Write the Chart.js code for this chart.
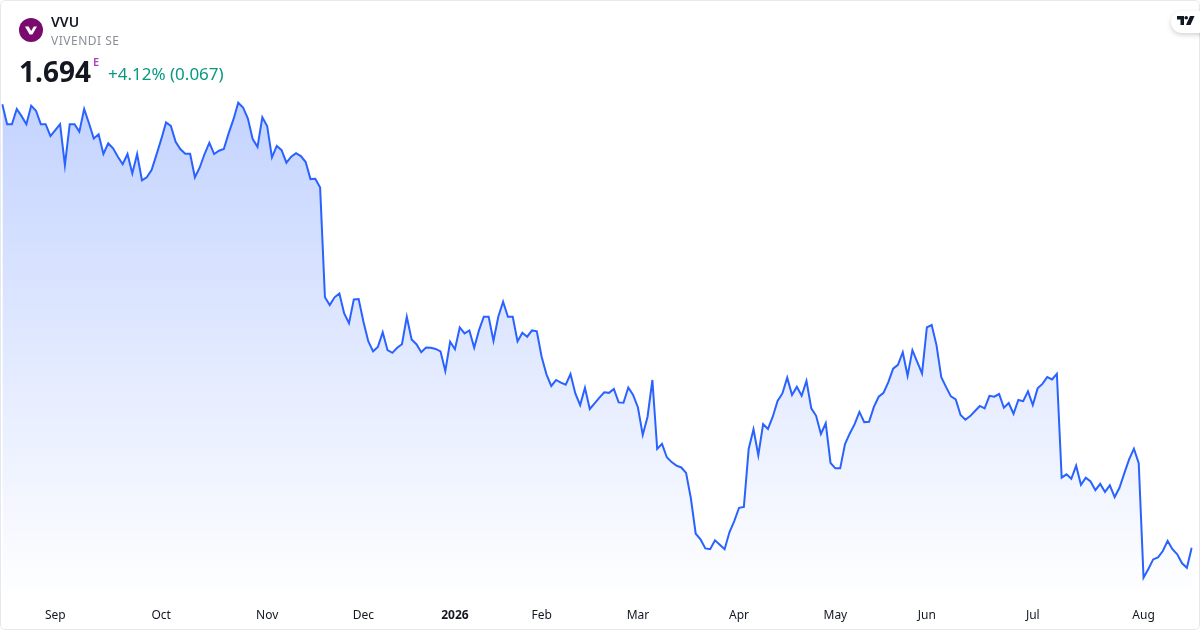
<!DOCTYPE html>
<html>
<head>
<meta charset="utf-8">
<title>VVU</title>
<script src="https://cdn.jsdelivr.net/npm/chart.js@4/dist/chart.umd.min.js"></script>
<style>
  html, body { margin: 0; padding: 0; background: #fff; }
  body { width: 1200px; height: 630px; overflow: hidden; position: relative; font-family: "Noto Sans", sans-serif; }
  #card { position: absolute; left: 0; top: 0; width: 1198px; height: 628px; border: 1px solid #e6e8ee; border-radius: 5px; }
  #chart { position: absolute; left: 0; top: 0; }
  .txt { position: absolute; white-space: nowrap; }
  #logo { position: absolute; left: 19px; top: 18px; }
  #symbol { left: 51px; top: 12px; font-size: 14px; font-weight: 600; color: #131722; line-height: 19px; }
  #name { left: 51px; top: 32px; font-size: 12px; letter-spacing: 0.5px; color: #8a8e97; line-height: 17px; }
  #price { left: 19px; top: 52px; font-size: 28px; font-weight: 700; color: #131722; line-height: 38px; }
  #flag { left: 93px; top: 54px; font-size: 11px; font-weight: 600; color: #ab47bc; line-height: 15px; }
  #change { left: 108px; top: 62px; font-size: 17px; color: #089981; line-height: 24px; }
  #tv { position: absolute; left: 1171px; top: 11px; width: 40px; height: 22px; background: #fff; border-radius: 11px; box-shadow: 0 2px 5px rgba(0,0,0,0.18); }
  #tv svg { position: absolute; left: 6px; top: 5px; }
</style>
</head>
<body>
<div id="card"></div>
<canvas id="chart" width="1200" height="630"></canvas>
<svg id="logo" width="24" height="24" viewBox="0 0 24 24">
  <circle cx="12" cy="12" r="12" fill="#7b0a6e"/>
  <path d="M6 8.5h3.6l2.6 4.6 2.6-4.6H18l-4.6 8h-2.8z" fill="#fff"/>
</svg>
<div class="txt" id="symbol">VVU</div>
<div class="txt" id="name">VIVENDI SE</div>
<div class="txt" id="price">1.694</div>
<div class="txt" id="flag">E</div>
<div class="txt" id="change">+4.12% (0.067)</div>
<div id="tv">
  <svg width="18" height="10" viewBox="0 0 18 10">
    <path d="M0 0h7v9H3.5V3.5H0z" fill="#131722"/>
    <circle cx="9.2" cy="1.8" r="1.8" fill="#131722"/>
    <path d="M13 0h4.5l-4 9H9z" fill="#131722"/>
  </svg>
</div>
<script>
var values = [
  3.180, 3.113, 3.113, 3.164, 3.140, 3.113, 3.175, 3.158, 3.113, 3.113,
  3.073, 3.093, 3.113, 2.976, 3.113, 3.113, 3.088, 3.164, 3.116, 3.065,
  3.079, 3.013, 3.049, 3.032, 3.004, 2.979, 3.013, 2.948, 3.013, 2.925,
  2.935, 2.959, 3.010, 3.062, 3.119, 3.107, 3.054, 3.029, 3.014, 3.014,
  2.935, 2.968, 3.013, 3.051, 3.013, 3.024, 3.030, 3.082, 3.129, 3.185,
  3.169, 3.132, 3.063, 3.037, 3.136, 3.107, 3.002, 3.040, 3.026, 2.984,
  3.004, 3.016, 3.006, 2.986, 2.929, 2.930, 2.901, 2.533, 2.507, 2.533,
  2.546, 2.479, 2.446, 2.526, 2.527, 2.451, 2.386, 2.352, 2.367, 2.416,
  2.356, 2.347, 2.364, 2.376, 2.468, 2.392, 2.376, 2.349, 2.365, 2.364,
  2.360, 2.352, 2.286, 2.384, 2.359, 2.432, 2.412, 2.422, 2.364, 2.423,
  2.468, 2.468, 2.387, 2.468, 2.518, 2.468, 2.468, 2.385, 2.414, 2.401,
  2.422, 2.419, 2.334, 2.275, 2.236, 2.256, 2.247, 2.240, 2.276, 2.211,
  2.172, 2.230, 2.159, 2.178, 2.197, 2.215, 2.213, 2.226, 2.181, 2.180,
  2.231, 2.206, 2.164, 2.072, 2.133, 2.256, 2.025, 2.042, 1.997, 1.981,
  1.969, 1.963, 1.945, 1.859, 1.741, 1.722, 1.692, 1.689, 1.719, 1.704,
  1.689, 1.746, 1.783, 1.828, 1.831, 2.025, 2.091, 2.004, 2.108, 2.092,
  2.133, 2.186, 2.211, 2.264, 2.206, 2.233, 2.203, 2.253, 2.161, 2.136,
  2.075, 2.111, 1.978, 1.960, 1.960, 2.041, 2.077, 2.108, 2.149, 2.115,
  2.116, 2.166, 2.200, 2.213, 2.249, 2.294, 2.307, 2.349, 2.270, 2.356,
  2.317, 2.278, 2.432, 2.440, 2.373, 2.265, 2.232, 2.201, 2.191, 2.139,
  2.123, 2.135, 2.152, 2.169, 2.161, 2.203, 2.200, 2.209, 2.163, 2.179,
  2.143, 2.189, 2.185, 2.218, 2.172, 2.228, 2.243, 2.266, 2.258, 2.277,
  1.929, 1.940, 1.925, 1.969, 1.905, 1.929, 1.916, 1.887, 1.908, 1.881,
  1.903, 1.864, 1.895, 1.943, 1.990, 2.026, 1.977, 1.594, 1.623, 1.655,
  1.662, 1.683, 1.717, 1.689, 1.672, 1.642, 1.627, 1.694
];
var tickLabels = ["Sep", "Oct", "Nov", "Dec", "2026", "Feb", "Mar", "Apr", "May", "Jun", "Jul", "Aug"];
var tickIndex = [11, 33, 55, 75, 94, 112, 132, 153, 173, 192, 214, 237];

var labels = [];
for (var i = 0; i < values.length; i++) {
  var pos = tickIndex.indexOf(i);
  labels.push(pos >= 0 ? tickLabels[pos] : "");
}

new Chart(document.getElementById("chart"), {
  type: 'line',
  data: {
    labels: labels,
    datasets: [{
      data: values,
      borderColor: "#2962ff",
      borderWidth: 2,
      pointRadius: 0,
      tension: 0,
      fill: 'start',
      backgroundColor: function (context) {
        var g = context.chart.ctx.createLinearGradient(0, 100, 0, 600);
        g.addColorStop(0, "rgba(41, 98, 255, 0.28)");
        g.addColorStop(1, "rgba(41, 98, 255, 0)");
        return g;
      }
    }]
  },
  options: {
    responsive: false,
    animation: false,
    layout: { padding: { left: 2.3, right: 8.3, top: 0, bottom: 0 } },
    plugins: { legend: { display: false }, tooltip: { enabled: false } },
    scales: {
      x: {
        offset: false,
        grid: { display: false },
        border: { display: false },
        afterFit: function (scale) { scale.height = 30; },
        ticks: {
          autoSkip: false,
          maxRotation: 0,
          padding: 0,
          color: "#131722",
          font: function (context) {
            var isYear = context.tick && context.tick.label == "2026";
            return { family: "Noto Sans", size: 12, weight: isYear ? "bold" : "normal" };
          },
          callback: function (value) { return labels[value]; }
        }
      },
      y: {
        display: false,
        min: 1.519,
        max: 3.529
      }
    }
  }
});
</script>
</body>
</html>
